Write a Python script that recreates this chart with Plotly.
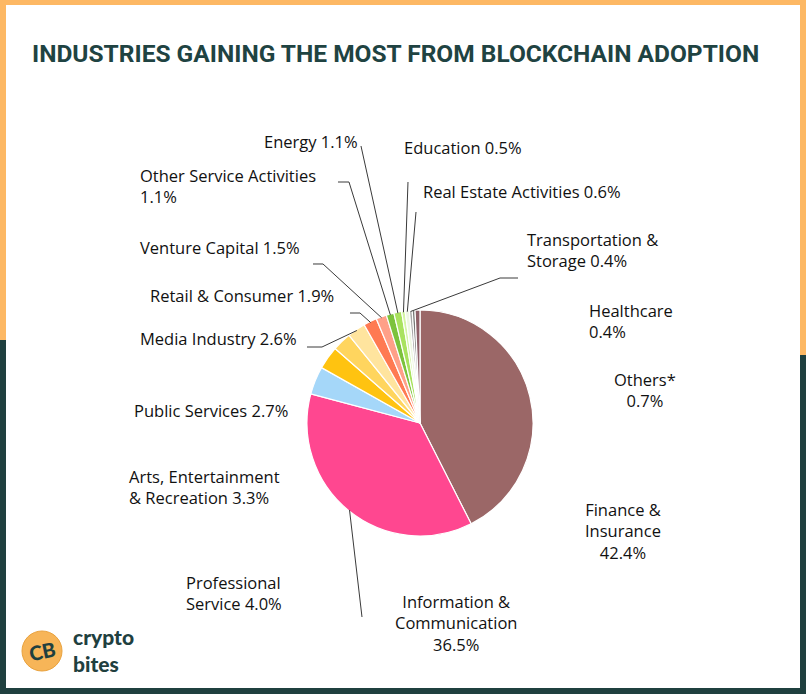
import math
import plotly.graph_objects as go

# ---------------- data ----------------
categories = [
    "Finance & Insurance", "Information & Communication", "Professional Service",
    "Arts, Entertainment & Recreation", "Public Services", "Media Industry",
    "Retail & Consumer", "Venture Capital", "Other Service Activities", "Energy",
    "Education", "Real Estate Activities", "Transportation & Storage",
    "Healthcare", "Others*",
]
values = [42.4, 36.5, 4.0, 3.3, 2.7, 2.6, 1.9, 1.5, 1.1, 1.1, 0.5, 0.6, 0.4, 0.4, 0.7]
colors = [
    "#9B6767", "#FF4790", "#A5D7F9", "#FFC310", "#FFD55E", "#FFE49E",
    "#FF7A52", "#FFA088", "#7CC23C", "#A9E25E", "#D4F5A4", "#EEF7E2",
    "#A8A8A8", "#777777", "#8E5F68",
]
title_text = "INDUSTRIES GAINING THE MOST FROM BLOCKCHAIN ADOPTION"

# ---------------- layout constants (pixels) ----------------
W, H = 806, 694
CX, CY, R = 420, 423, 113
ORANGE = "#FDB864"
GREEN = "#1F403F"
TXT = "#111111"
LABEL_FONT = "Open Sans, Lato, sans-serif"
LABEL_SIZE = 16.5


def px(x):
    return x / W


def py(y):
    return 1 - y / H


# label layout: index -> (x, y, xanchor, align, words-per-line, value on new line, leader elbows)
label_layout = {
    0: (623, 531, "center", "center", [2, 1], True, None),
    1: (456, 623, "center", "center", [2, 1], True, [(362, 617)]),
    2: (184, 593, "left", "left", [1, 1], False, None),
    3: (127, 487, "left", "left", [2, 2], False, None),
    4: (132, 411, "left", "left", [2], False, None),
    5: (138, 338, "left", "left", [2], False, [(307, 347), (322, 347)]),
    6: (148, 295, "left", "left", [3], False, [(350, 313), (360, 313)]),
    7: (138, 247, "left", "left", [2], False, [(313, 264), (323, 264)]),
    8: (138, 186, "left", "left", [3], True, [(338, 182), (349, 182)]),
    9: (360, 141, "right", "right", [1], False, [(361, 146)]),
    10: (402, 148, "left", "left", [1], False, [(408, 182)]),
    11: (421, 192, "left", "left", [3], False, [(416, 212)]),
    12: (525, 250, "left", "left", [2, 1], False, [(518, 278), (500, 278)]),
    13: (587, 321, "left", "left", [1], True, None),
    14: (645, 390, "center", "center", [1], True, None),
}


def make_label(name, val, wraps, newline):
    words = name.split(" ")
    lines, i = [], 0
    for n in wraps:
        lines.append(" ".join(words[i:i + n]))
        i += n
    v = f"{val}%"
    if newline:
        lines.append(v)
    else:
        lines[-1] = lines[-1] + " " + v
    return "<br>".join(lines)


fig = go.Figure()
fig.add_trace(go.Pie(
    labels=categories, values=values, sort=False, direction="clockwise", rotation=0,
    marker=dict(colors=colors, line=dict(color="white", width=1.2)),
    textinfo="none", hoverinfo="label+percent", showlegend=False,
    domain=dict(x=[px(CX - R), px(CX + R)], y=[py(CY + R), py(CY - R)]),
))

total = sum(values)
annotations, shapes = [], []
cum = 0.0
for i, (name, val) in enumerate(zip(categories, values)):
    mid = (cum + val / 2) / total * 2 * math.pi
    cum += val
    ex, ey = CX + R * math.sin(mid), CY - R * math.cos(mid)
    x, y, xa, al, wraps, nl, elbows = label_layout[i]
    annotations.append(dict(
        x=px(x), y=py(y), xref="paper", yref="paper", xanchor=xa, yanchor="middle",
        align=al, showarrow=False, text=make_label(name, val, wraps, nl),
        font=dict(family=LABEL_FONT, size=LABEL_SIZE, color=TXT),
    ))
    if elbows:
        pts = elbows + [(ex - 1.0 * math.sin(mid), ey + 1.0 * math.cos(mid))]
        path = "M " + " L ".join(f"{px(a):.5f},{py(b):.5f}" for a, b in pts)
        shapes.append(dict(type="path", xref="paper", yref="paper", path=path,
                           line=dict(color="#3a3a3a", width=1)))

# title
annotations.append(dict(
    x=px(395), y=py(53), xref="paper", yref="paper", xanchor="center", yanchor="middle",
    showarrow=False, text="<b>" + title_text + "</b>",
    font=dict(family="Roboto, sans-serif", size=24.5, color="#1F4342"),
))

# frame
def rect(x0, y0, x1, y1, col):
    return dict(type="rect", xref="paper", yref="paper", x0=px(x0), x1=px(x1),
                y0=py(y1), y1=py(y0), fillcolor=col, line=dict(width=0), layer="above")

shapes += [
    rect(0, 0, W, 5, ORANGE),
    rect(0, 0, 6, 340, ORANGE),
    rect(0, 340, 6, H, GREEN),
    rect(800, 0, W, 355, ORANGE),
    rect(800, 355, W, H, GREEN),
    rect(0, 688, W, H, GREEN),
]

# logo
shapes.append(dict(type="circle", xref="paper", yref="paper",
                   x0=px(22), x1=px(62), y0=py(671), y1=py(631),
                   fillcolor="#F7B558", line=dict(color="#E9A23E", width=1)))
annotations.append(dict(
    x=px(42), y=py(651), xref="paper", yref="paper", xanchor="center", yanchor="middle",
    showarrow=False, text="CB", textangle=-12,
    font=dict(family="Lato, sans-serif", size=20, color=GREEN, weight=900),
))
annotations.append(dict(
    x=px(71), y=py(650), xref="paper", yref="paper", xanchor="left", yanchor="middle",
    align="left", showarrow=False, text="crypto<br>bites",
    font=dict(family="Lato, sans-serif", size=21, color=GREEN, weight=900),
))

fig.update_layout(
    width=W, height=H, margin=dict(l=0, r=0, t=0, b=0),
    paper_bgcolor="white", plot_bgcolor="white",
    annotations=annotations, shapes=shapes,
)

fig.write_html("out.html", config={"displayModeBar": False},
               post_script="document.body.style.margin='0px';")
